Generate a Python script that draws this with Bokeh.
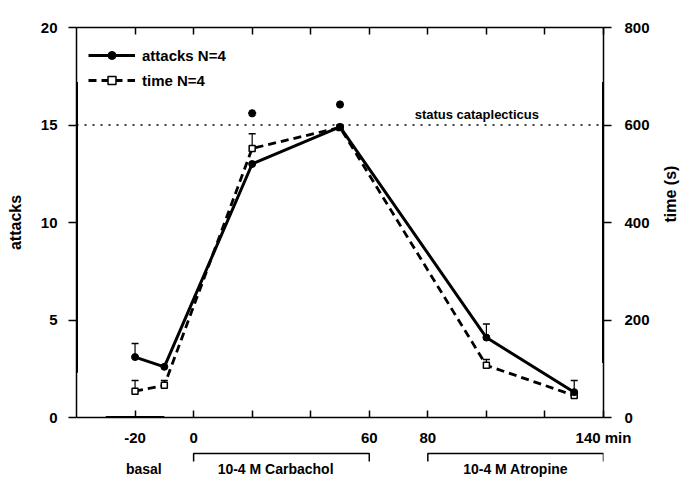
import math
from bokeh.plotting import figure
from bokeh.models import (Range1d, LinearAxis, FixedTicker, Span, Label, Legend, LegendItem,
                          ColumnDataSource)
from bokeh.layouts import column
from bokeh.embed import file_html
from bokeh.resources import INLINE
from bokeh.core.properties import value

# ---- data ----
minutes = [-20, -10, 20, 50, 100, 130]
attacks = [3.1, 2.6, 13.0, 14.9, 4.1, 1.3]
attacks_sem = [0.7, 0.0, 0.0, 0.0, 0.7, 0.0]
time_s = [54, 66, 552, 595, 107, 45]
time_sem = [22, 10, 30, 0, 12, 31]
sig_minutes = [20, 50]
sig_attacks = [15.6, 16.05]
cataplexy_level = 15
periods = ["Carbachol", "Atropine"]
period_start = [0, 80]
period_end = [60, 140]
basal_start, basal_end = -30, -10
x_labeled_ticks = [-20, 0, 60, 80, 140]
x_unlabeled_ticks = [20, 40, 100, 120]
x_tick_labels = {-20: "-20", 140: "140 min"}
y_ticks = [0, 5, 10, 15, 20]
time_ticks = [0, 200, 400, 600, 800]

FONT = "Liberation Sans"
W = 690
HT = 478
LB, RB = 76, 85
H1 = 449

p = figure(width=W, height=H1, output_backend="svg", toolbar_location=None,
           x_range=Range1d(-40, 140), y_range=Range1d(0, 20),
           min_border_left=LB, min_border_right=RB, min_border_top=27, min_border_bottom=32,
           x_axis_location=None, y_axis_location=None)
p.extra_y_ranges = {"time": Range1d(0, 800)}
p.grid.visible = False
p.outline_line_color = None
p.background_fill_color = "white"
p.border_fill_color = "white"

def style_axis(ax):
    ax.axis_line_color = "black"
    ax.axis_line_width = 1.5
    ax.major_tick_line_color = "black"
    ax.major_tick_line_width = 1.5
    ax.minor_tick_line_color = None
    ax.major_label_text_font = FONT
    ax.major_label_text_font_style = "bold"
    ax.major_label_text_font_size = "15px"
    ax.major_label_text_color = "black"
    ax.axis_label_text_font = FONT
    ax.axis_label_text_font_style = "bold"
    ax.axis_label_text_font_size = "16px"
    ax.axis_label_text_color = "black"

left = LinearAxis(ticker=FixedTicker(ticks=y_ticks), axis_label="attacks", axis_label_standoff=14)
style_axis(left)
left.major_tick_out = 8
left.major_tick_in = 0
left.major_label_standoff = 11
p.add_layout(left, "left")

right = LinearAxis(y_range_name="time", ticker=FixedTicker(ticks=time_ticks),
                   axis_label="time (s)", axis_label_standoff=18,
                   axis_label_orientation=math.pi / 2)
style_axis(right)
right.major_tick_out = 8
right.major_tick_in = 0
right.major_label_standoff = 13
p.add_layout(right, "right")

bottom = LinearAxis(ticker=FixedTicker(ticks=x_labeled_ticks, minor_ticks=x_unlabeled_ticks),
                    major_label_overrides=x_tick_labels)
style_axis(bottom)
bottom.major_tick_in = 7
bottom.major_tick_out = 0
bottom.minor_tick_line_color = "black"
bottom.minor_tick_line_width = 1.5
bottom.minor_tick_in = 7
bottom.minor_tick_out = 0
bottom.major_label_standoff = 11
p.add_layout(bottom, "below")

top = LinearAxis(ticker=FixedTicker(ticks=[], minor_ticks=x_labeled_ticks + x_unlabeled_ticks))
style_axis(top)
top.minor_tick_line_color = "black"
top.minor_tick_line_width = 1.5
top.minor_tick_in = 7
top.minor_tick_out = 0
top.major_label_standoff = 0
p.add_layout(top, "above")

# thick parts of the frame (as printed)
p.segment(x0=[-40], y0=[2.3], x1=[-40], y1=[17.2], line_color="black", line_width=3)
p.segment(x0=[140], y0=[2.8], x1=[140], y1=[17.2], line_color="black", line_width=3)
p.segment(x0=[basal_start], y0=[0], x1=[basal_end], y1=[0], line_color="black", line_width=3)

# status cataplecticus level
p.add_layout(Span(location=cataplexy_level, dimension="width", line_color="black",
                  line_width=1.5, line_dash="2 6"))
p.add_layout(Label(x=75.5, y=cataplexy_level, y_offset=3, text="status cataplecticus",
                   text_font=FONT, text_font_style="bold", text_font_size="13px",
                   text_baseline="bottom", text_color="black"))

# error bars
ax_ = [m for m, s in zip(minutes, attacks_sem) if s > 0]
ay0 = [a for a, s in zip(attacks, attacks_sem) if s > 0]
ay1 = [a + s for a, s in zip(attacks, attacks_sem) if s > 0]
p.segment(x0=ax_, y0=ay0, x1=ax_, y1=ay1, line_color="black", line_width=1.2)
p.scatter(ax_, ay1, marker="dash", size=7, line_color="black", line_width=1.5)

tx_ = [m for m, s in zip(minutes, time_sem) if s > 0]
ty0 = [a for a, s in zip(time_s, time_sem) if s > 0]
ty1 = [a + s for a, s in zip(time_s, time_sem) if s > 0]
p.segment(x0=tx_, y0=ty0, x1=tx_, y1=ty1, line_color="black", line_width=1.2, y_range_name="time")
p.scatter(tx_, ty1, marker="dash", size=7, line_color="black", line_width=1.5, y_range_name="time")

# series
src_a = ColumnDataSource(dict(x=minutes, y=attacks))
src_t = ColumnDataSource(dict(x=minutes, y=time_s))
lt = p.line("x", "y", source=src_t, line_color="black", line_width=2.8, line_dash="8 5",
            y_range_name="time")
st = p.scatter("x", "y", source=src_t, marker="square", size=6, fill_color="white",
               line_color="black", line_width=1.5, y_range_name="time")
la = p.line("x", "y", source=src_a, line_color="black", line_width=3)
sa = p.scatter("x", "y", source=src_a, marker="circle", size=7, fill_color="black",
               line_color="black")

p.scatter(sig_minutes, sig_attacks, marker="asterisk", size=8, line_color="black", line_width=2.5)

legend = Legend(items=[LegendItem(label="attacks N=4", renderers=[la, sa]),
                       LegendItem(label="time N=4", renderers=[lt, st])],
                location=(12, 327), margin=0, padding=0, spacing=5,
                glyph_width=47, glyph_height=20, label_height=20, label_standoff=7,
                border_line_color=None, background_fill_alpha=0,
                label_text_font=FONT, label_text_font_style="bold",
                label_text_font_size="15px", label_text_color="black")
p.add_layout(legend)

# period brackets
H2 = HT - H1
p2 = figure(width=W, height=H2, output_backend="svg", toolbar_location=None,
            x_range=p.x_range, y_range=Range1d(0, H2),
            min_border_left=LB, min_border_right=RB, min_border_top=0, min_border_bottom=0,
            x_axis_location=None, y_axis_location=None)
p2.grid.visible = False
p2.outline_line_color = None
xs = [[s, s, e, e] for s, e in zip(period_start, period_end)]
ys = [[17, 25, 25, 17] for _ in periods]
p2.multi_line(xs, ys, line_color="black", line_width=1.5)
p2.text(x=[-17, 28, 110], y=[9.5, 9.5, 9.5],
        text=["basal", "10-4 M " + periods[0], "10-4 M " + periods[1]],
        text_font=value(FONT), text_font_style="bold", text_font_size="14px",
        text_align="center", text_baseline="middle", text_color="black")

layout = column(p, p2, spacing=0)
open("out.html", "w").write(file_html(layout, INLINE))
